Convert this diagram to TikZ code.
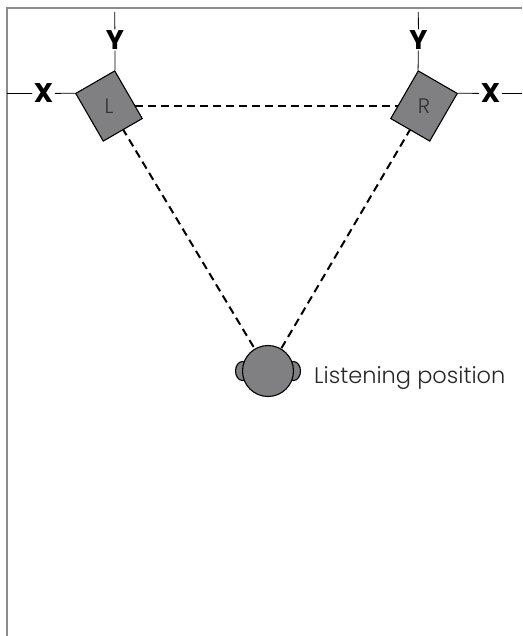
\documentclass[tikz,border=0pt]{standalone}
\usepackage{fontspec}
\setmainfont{Poppins}
\newfontfamily\lightfont{Poppins Light}
\usetikzlibrary{shapes.geometric,backgrounds}
\definecolor{wallgray}{RGB}{140,140,140}
\definecolor{boxgray}{RGB}{128,128,130}
\definecolor{inkdark}{RGB}{40,38,40}
\definecolor{lettergray}{RGB}{50,50,53}
\begin{document}
\begin{tikzpicture}[x=1pt,y=-1pt,
  wall/.style={draw=wallgray,line width=2pt},
  spk/.style={draw=black,fill=boxgray,line width=1.1pt,minimum width=45pt,minimum height=55pt,inner sep=0pt},
  spktext/.style={font=\lightfont\fontsize{21}{21}\selectfont,text=lettergray,inner sep=0pt},
  axisline/.style={draw=black,line width=0.8pt},
  axlabel/.style={font=\fontsize{27}{27}\selectfont\bfseries,inner xsep=1.5pt,inner ysep=1pt,text=black},
  dashline/.style={draw=black,line width=2pt,dash pattern=on 8pt off 5pt},
  headpart/.style={draw=black,fill=boxgray,line width=1.1pt,inner sep=0pt}]
\useasboundingbox (0,0) rectangle (522,636);
% room walls
\draw[wall] (7,636) -- (7,8.5) -- (522,8.5);
% speakers
\node[spk,rotate=30] (L) at (109,106) {};
\node[spk,rotate=-30] (R) at (424,106) {};
\node[spktext] (Ltxt) at (109,106) {L};
\node[spktext] (Rtxt) at (424,106) {R};
% head
\node[headpart,ellipse,minimum width=14pt,minimum height=19pt] (earL) at (242.5,371) {};
\node[headpart,ellipse,minimum width=14pt,minimum height=19pt] (earR) at (293.5,371) {};
\node[headpart,circle,minimum size=51pt] (head) at (268,371) {};
\node[font=\lightfont\fontsize{22.5}{22.5}\selectfont,text=inkdark,anchor=base west,inner sep=0pt] (lp) at (314,383.5) {Listening position};
% axis labels
\node[axlabel] (YL) at (115,40) {Y};
\node[axlabel] (XL) at (43.5,93.5) {X};
\node[axlabel] (YR) at (418.5,40) {Y};
\node[axlabel] (XR) at (490.5,93.5) {X};
\coordinate (YLtop) at (114.7,12);
\coordinate (XLend) at (7,93.4);
\coordinate (YRtop) at (418.3,12);
\coordinate (XRend) at (522,93.4);
\draw[axisline] (L.north east) -- (YL);
\draw[axisline] (YL) -- (YLtop);
\draw[axisline] (L.north west) -- (XL);
\draw[axisline] (XL) -- (XLend);
\draw[axisline] (R.north west) -- (YR);
\draw[axisline] (YR) -- (YRtop);
\draw[axisline] (R.north east) -- (XR);
\draw[axisline] (XR) -- (XRend);
% dashed sight lines
\begin{scope}[on background layer]
\draw[dashline] (L.center) -- (R.center);
\draw[dashline] (L.center) -- (head.center);
\draw[dashline] (R.center) -- (head.center);
\end{scope}
\end{tikzpicture}
\end{document}
